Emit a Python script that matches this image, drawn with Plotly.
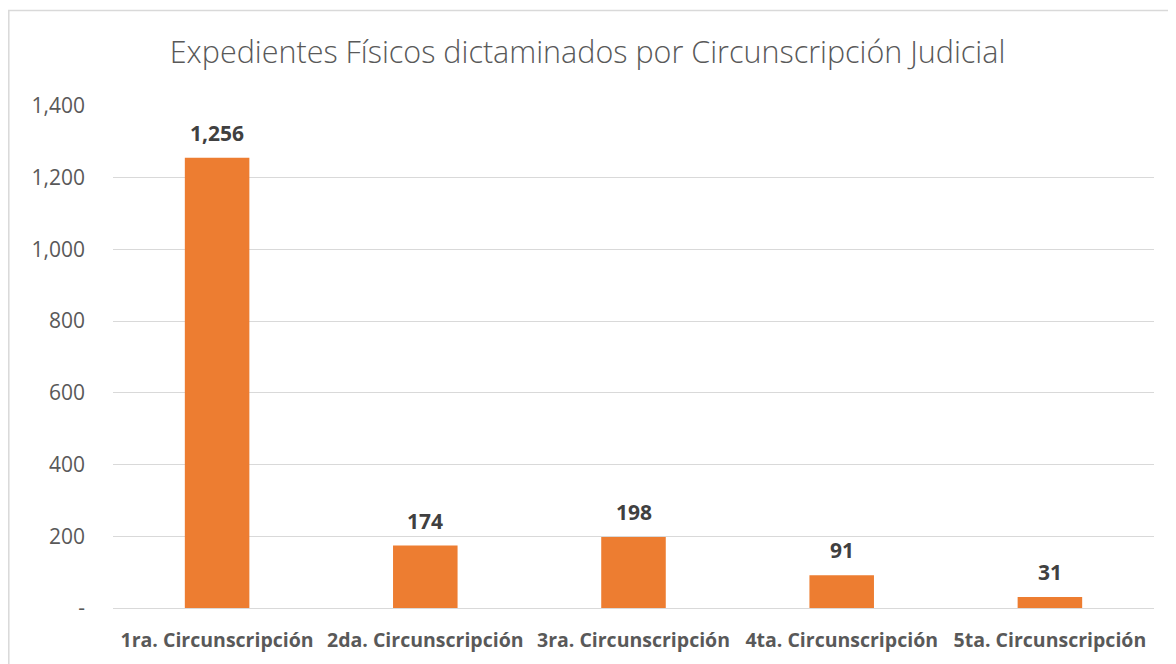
import plotly.graph_objects as go

categories = ["1ra. Circunscripción", "2da. Circunscripción", "3ra. Circunscripción",
              "4ta. Circunscripción", "5ta. Circunscripción"]
values = [1256, 174, 198, 91, 31]
tick_vals = [0, 200, 400, 600, 800, 1000, 1200, 1400]
tick_text = ["-", "200", "400", "600", "800", "1,000", "1,200", "1,400"]
title_text = "Expedientes Físicos dictaminados por Circunscripción Judicial"

FONT = "Open Sans"

fig = go.Figure(go.Bar(
    x=categories, y=values,
    marker=dict(color="#ED7D31", line=dict(width=0)),
    hoverinfo="x+y",
))

for c, v in zip(categories, values):
    fig.add_annotation(x=c, y=v, text=f"<b>{v:,}</b>", showarrow=False,
                       yshift=25, font=dict(family=FONT, size=21, color="#404040"))

# page body has an 8px margin, so figure pixel = reference pixel - 8
W, H = 1168, 656
L, R, T, B = 105, 22, 98, 56
pw, ph = W - L - R, H - T - B

def px(x):
    return (x - L) / pw

def py(y):
    return (H - B - y) / ph

fig.add_shape(type="rect", xref="paper", yref="paper",
              x0=px(0.8), x1=px(1180), y0=py(670), y1=py(2.5),
              line=dict(color="#D9D9D9", width=1.5), fillcolor="rgba(0,0,0,0)", layer="below")

fig.update_layout(
    width=W, height=H,
    margin=dict(l=L, r=R, t=T, b=B),
    paper_bgcolor="white", plot_bgcolor="white",
    bargap=0.69,
    showlegend=False,
    title=dict(text=title_text, x=(587.5 - 8) / W, xref="container", xanchor="center",
               y=1 - 44 / H, yanchor="middle",
               font=dict(family=FONT, size=30.5, color="#595959", weight=300)),
    xaxis=dict(
        showgrid=False, showline=True, linecolor="#D9D9D9", linewidth=1,
        ticks="", ticklabelstandoff=15,
        tickfont=dict(family=FONT, size=19.5, color="#595959", weight="bold"),
    ),
    yaxis=dict(
        range=[0, 1400], tickvals=tick_vals, ticktext=tick_text,
        showgrid=True, gridcolor="#D9D9D9", gridwidth=1,
        zeroline=False, showline=False, ticks="",
        ticklabelstandoff=27,
        tickfont=dict(family=FONT, size=21, color="#595959"),
    ),
)

fig.write_html("out.html")
